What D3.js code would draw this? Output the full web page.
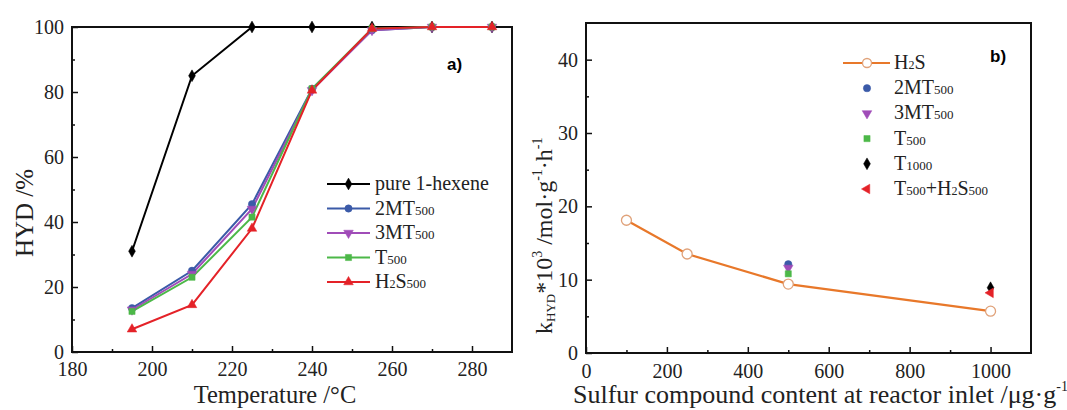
<!DOCTYPE html>
<html><head><meta charset="utf-8">
<script src="https://cdn.jsdelivr.net/npm/d3@7"></script>
<style>body{margin:0;background:#fff}svg{display:block}</style>
</head><body>
<svg id="c" width="1067" height="410"></svg>
<script>
// Panel a data
const temps = [195, 210, 225, 240, 255, 270, 285];
const hexene = [31, 85, 100, 100, 100, 100, 100];
const mt2 = [13.5, 25, 45.5, 81, 99, 100, 100];
const mt3 = [13, 24, 44, 80.5, 99, 100, 100];
const t500 = [12.5, 23, 41.5, 81, 99.5, 100, 100];
const h2s500 = [7, 14.5, 38, 80.5, 99.5, 100, 100];
const xTicksA = [180, 200, 220, 240, 260, 280];
const yTicksA = [0, 20, 40, 60, 80, 100];
// Panel b data
const sulfur = [100, 250, 500, 1000];
const kH2S = [18.1, 13.5, 9.4, 5.7];
const pts2MT = [[500, 12.1]];
const pts3MT = [[500, 11.6]];
const ptsT500 = [[500, 10.8]];
const ptsT1000 = [[1000, 8.9]];
const ptsT500H2S = [[1000, 8.2]];
const xTicksB = [0, 200, 400, 600, 800, 1000];
const yTicksB = [0, 10, 20, 30, 40];

const svg = d3.select("#c");
const serif = "'Liberation Serif', 'Times New Roman', Times, serif";
const sans = "'Liberation Sans', Arial, sans-serif";

function frame(g, x, y, xt, yt, xminor, yminor, padX) {
  const [x0, x1] = x.range(), [y0, y1] = y.range();
  const ax = g.append("g").attr("transform", `translate(0,${y0})`)
    .call(d3.axisBottom(x).tickValues(xt).tickSize(-6).tickPadding(padX).tickFormat(d3.format("d")));
  ax.select(".domain").remove();
  g.append("g").attr("transform", `translate(0,${y0})`)
    .call(d3.axisBottom(x).tickValues(xminor).tickSize(-3).tickFormat(""))
    .select(".domain").remove();
  const ay = g.append("g").attr("transform", `translate(${x0},0)`)
    .call(d3.axisLeft(y).tickValues(yt).tickSize(-6).tickPadding(8).tickFormat(d3.format("d")));
  ay.select(".domain").remove();
  g.append("g").attr("transform", `translate(${x0},0)`)
    .call(d3.axisLeft(y).tickValues(yminor).tickSize(-3).tickFormat(""))
    .select(".domain").remove();
  g.selectAll(".tick line").attr("stroke", "#111").attr("stroke-width", 1.5);
  g.selectAll(".tick text").style("font-family", serif).style("font-size", "20px").attr("fill", "#222");
  g.append("rect").attr("x", x0).attr("y", y1).attr("width", x1 - x0).attr("height", y0 - y1)
    .attr("fill", "none").attr("stroke", "#111").attr("stroke-width", 2);
}

function marker(g, type, cx, cy, color, fill) {
  const sym = {diamond: d3.symbolDiamond, circle: d3.symbolCircle, square: d3.symbolSquare,
    triUp: d3.symbolTriangle, triDown: d3.symbolTriangle, triLeft: d3.symbolTriangle}[type];
  const size = {diamond: 40, circle: 42, square: 38, triUp: 40, triDown: 40, triLeft: 40}[type];
  const rot = type === "triDown" ? 180 : type === "triLeft" ? -90 : 0;
  g.append("path").attr("d", d3.symbol().type(sym).size(size)())
    .attr("transform", `translate(${cx},${cy}) rotate(${rot})`)
    .attr("fill", fill || color).attr("stroke", color).attr("stroke-width", fill ? 1.2 : 0.5);
}

// ---------- Panel a ----------
const xa = d3.scaleLinear().domain([180, 290]).range([72, 512]);
const ya = d3.scaleLinear().domain([0, 100]).range([352, 27]);
const ga = svg.append("g");
frame(ga, xa, ya, xTicksA, yTicksA, [190, 210, 230, 250, 270], [10, 30, 50, 70, 90], 10);

const seriesA = [
  {name: "pure 1-hexene", sub: "", vals: hexene, color: "#000000", m: "diamond"},
  {name: "2MT", sub: "500", vals: mt2, color: "#3b5aa8", m: "circle"},
  {name: "3MT", sub: "500", vals: mt3, color: "#a04cb8", m: "triDown"},
  {name: "T", sub: "500", vals: t500, color: "#4cb848", m: "square"},
  {name: "H₂S", sub: "500", vals: h2s500, color: "#e42228", m: "triUp"}
];
const lineA = d3.line().x((d, i) => xa(temps[i])).y(d => ya(d));
seriesA.forEach(s => {
  ga.append("path").attr("d", lineA(s.vals)).attr("fill", "none").attr("stroke", s.color).attr("stroke-width", 2);
});
seriesA.forEach(s => {
  s.vals.forEach((v, i) => marker(ga, s.m, xa(temps[i]), ya(v), s.color));
});
// legend a
seriesA.forEach((s, i) => {
  const y = 184 + i * 24.5;
  ga.append("line").attr("x1", 327).attr("x2", 370).attr("y1", y).attr("y2", y).attr("stroke", s.color).attr("stroke-width", 2);
  marker(ga, s.m, 348.5, y, s.color);
  const t = ga.append("text").attr("x", 375).attr("y", y + 6).style("font-family", serif).style("font-size", "20px").attr("fill", "#222");
  if (s.name === "H₂S") {
    t.append("tspan").text("H");
    t.append("tspan").style("font-size", "12px").text("2");
    t.append("tspan").text("S");
  } else t.append("tspan").text(s.name);
  if (s.sub) t.append("tspan").style("font-size", "13px").text(s.sub);
});
ga.append("text").attr("x", 447).attr("y", 70).style("font-family", sans)
  .style("font-weight", "bold").style("font-size", "17px").text("a)");
ga.append("text").attr("x", 275).attr("y", 403).attr("text-anchor", "middle").style("font-family", serif)
  .style("font-size", "24.5px").attr("fill", "#222").text("Temperature /°C");
ga.append("text").attr("transform", "translate(33,213) rotate(-90)").attr("text-anchor", "middle")
  .style("font-family", serif).style("font-size", "25px").attr("fill", "#222").text("HYD /%");

// ---------- Panel b ----------
const xb = d3.scaleLinear().domain([0, 1100]).range([586, 1031]);
const yb = d3.scaleLinear().domain([0, 45]).range([353, 23]);
const gb = svg.append("g");
frame(gb, xb, yb, xTicksB, yTicksB, [100, 300, 500, 700, 900], [5, 15, 25, 35], 11);

const lineB = d3.line().x((d, i) => xb(sulfur[i])).y(d => yb(d));
gb.append("path").attr("d", lineB(kH2S)).attr("fill", "none").attr("stroke", "#e8782a").attr("stroke-width", 2.2);
kH2S.forEach((v, i) => gb.append("circle").attr("cx", xb(sulfur[i])).attr("cy", yb(v)).attr("r", 5)
  .attr("fill", "#fff").attr("stroke", "#e0a27a").attr("stroke-width", 1.3));
const seriesB = [
  {pts: pts2MT, color: "#3b5aa8", m: "circle"},
  {pts: pts3MT, color: "#a04cb8", m: "triDown"},
  {pts: ptsT500, color: "#4cb848", m: "square"},
  {pts: ptsT1000, color: "#000000", m: "diamond"},
  {pts: ptsT500H2S, color: "#e42228", m: "triLeft"}
];
seriesB.forEach(s => s.pts.forEach(p => marker(gb, s.m, xb(p[0]), yb(p[1]), s.color)));

// legend b
const legB = [
  {parts: [["H", 20], ["2", 12], ["S", 20]]},
  {parts: [["2MT", 20], ["500", 13]]},
  {parts: [["3MT", 20], ["500", 13]]},
  {parts: [["T", 20], ["500", 13]]},
  {parts: [["T", 20], ["1000", 13]]},
  {parts: [["T", 20], ["500", 13], ["+H", 20], ["2", 12], ["S", 20], ["500", 13]]}
];
legB.forEach((l, i) => {
  const y = 63 + i * 25.2;
  if (i === 0) {
    gb.append("line").attr("x1", 843).attr("x2", 890).attr("y1", y).attr("y2", y).attr("stroke", "#e8782a").attr("stroke-width", 2.2);
    gb.append("circle").attr("cx", 867).attr("cy", y).attr("r", 4.5).attr("fill", "#fff").attr("stroke", "#e0a27a").attr("stroke-width", 1.3);
  } else {
    const s = seriesB[i - 1];
    marker(gb, s.m, 867, y, s.color);
  }
  const t = gb.append("text").attr("x", 894).attr("y", y + 6).style("font-family", serif).attr("fill", "#222");
  l.parts.forEach(p => t.append("tspan").style("font-size", p[1] + "px").text(p[0]));
});
gb.append("text").attr("x", 990).attr("y", 62).style("font-family", sans)
  .style("font-weight", "bold").style("font-size", "17px").text("b)");

// axis titles b
const xt = gb.append("text").attr("x", 573).attr("y", 403).style("font-family", serif).style("font-size", "26px").attr("fill", "#222");
xt.append("tspan").text("Sulfur compound content at reactor inlet /μg·g");
xt.append("tspan").style("font-size", "14px").attr("dy", -12).text("-1");

const yt = gb.append("text").attr("transform", "translate(552,334) rotate(-90)").style("font-family", serif)
  .style("font-size", "24px").attr("fill", "#222");
yt.append("tspan").text("k");
yt.append("tspan").style("font-size", "13px").attr("dy", 3).text("HYD");
yt.append("tspan").attr("dy", -3).text("*10");
yt.append("tspan").style("font-size", "14px").attr("dy", -10).text("3");
yt.append("tspan").attr("dy", 10).text(" /mol·g");
yt.append("tspan").style("font-size", "14px").attr("dy", -10).text("-1");
yt.append("tspan").attr("dy", 10).text("·h");
yt.append("tspan").style("font-size", "14px").attr("dy", -10).text("-1");
</script>
</body></html>
